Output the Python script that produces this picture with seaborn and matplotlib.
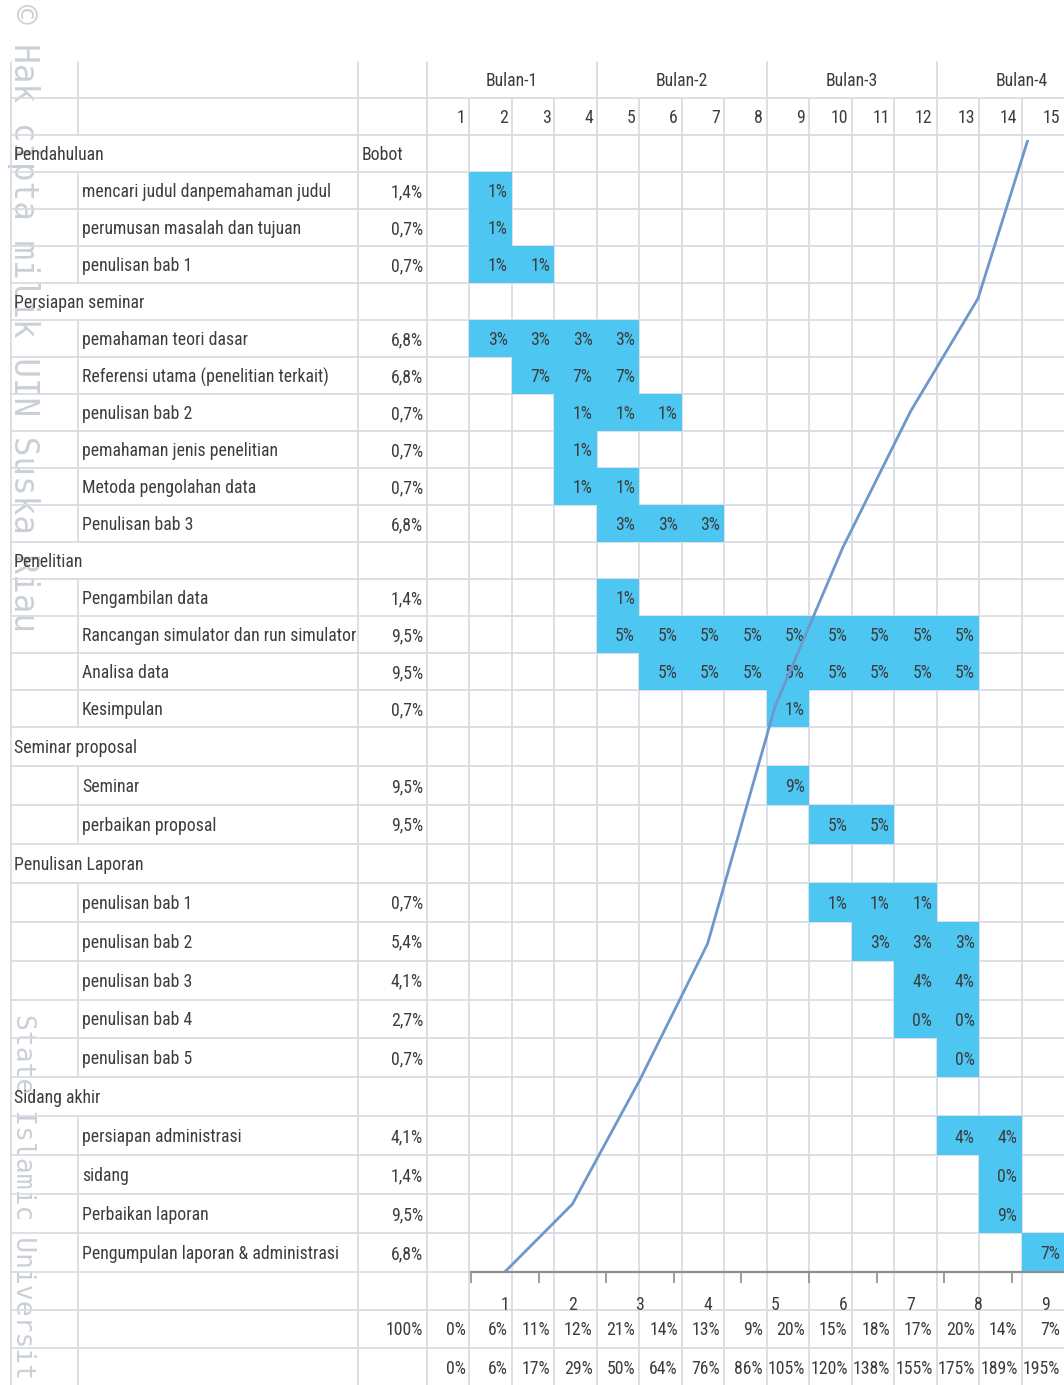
import numpy as np
import pandas as pd
import matplotlib
matplotlib.use("Agg")
import matplotlib.pyplot as plt
from matplotlib import font_manager as fm
from matplotlib.colors import ListedColormap
import seaborn as sns

# ---------------- data ----------------
months = ["Bulan-1", "Bulan-2", "Bulan-3", "Bulan-4"]
weeks = [str(i) for i in range(1, 16)]

row_labels = [
    "Pendahuluan", "mencari judul danpemahaman judul", "perumusan masalah dan tujuan", "penulisan bab 1",
    "Persiapan seminar", "pemahaman teori dasar", "Referensi utama (penelitian terkait)", "penulisan bab 2",
    "pemahaman jenis penelitian", "Metoda pengolahan data", "Penulisan bab 3",
    "Penelitian", "Pengambilan data", "Rancangan simulator dan run simulator", "Analisa data", "Kesimpulan",
    "Seminar proposal", "Seminar", "perbaikan proposal",
    "Penulisan Laporan", "penulisan bab 1", "penulisan bab 2", "penulisan bab 3", "penulisan bab 4",
    "penulisan bab 5",
    "Sidang akhir", "persiapan administrasi", "sidang", "Perbaikan laporan", "Pengumpulan laporan & administrasi",
]
is_group = [1, 0, 0, 0, 1, 0, 0, 0, 0, 0, 0, 1, 0, 0, 0, 0, 1, 0, 0, 1, 0, 0, 0, 0, 0, 1, 0, 0, 0, 0]
bobot_header = "Bobot"
bobot = ["", "1,4%", "0,7%", "0,7%", "", "6,8%", "6,8%", "0,7%", "0,7%", "0,7%", "6,8%",
         "", "1,4%", "9,5%", "9,5%", "0,7%", "", "9,5%", "9,5%",
         "", "0,7%", "5,4%", "4,1%", "2,7%", "0,7%", "", "4,1%", "1,4%", "9,5%", "6,8%"]
start_week = [0, 2, 2, 2, 0, 2, 3, 4, 4, 4, 5, 0, 5, 5, 6, 9, 0, 9, 10, 0, 10, 11, 12, 12, 13, 0, 13, 14, 14, 15]
end_week = [0, 2, 2, 3, 0, 5, 5, 6, 4, 5, 7, 0, 5, 13, 13, 9, 0, 9, 11, 0, 12, 13, 13, 13, 13, 0, 14, 14, 14, 15]
cell_pct = ["", "1%", "1%", "1%", "", "3%", "7%", "1%", "1%", "1%", "3%", "", "1%", "5%", "5%", "1%",
            "", "9%", "5%", "", "1%", "3%", "4%", "0%", "0%", "", "4%", "0%", "9%", "7%"]

total_bobot = "100%"
weekly_pct = ["0%", "6%", "11%", "12%", "21%", "14%", "13%", "9%", "20%", "15%", "18%", "17%", "20%", "14%", "7%"]
cumulative_pct = ["0%", "6%", "17%", "29%", "50%", "64%", "76%", "86%", "105%", "120%", "138%", "155%",
                  "175%", "189%", "195%"]

s_curve_labels = [str(i) for i in range(1, 10)]
s_curve_values = [0, 6, 17, 29, 50, 64, 76, 86, 105]

# ---------------- style ----------------
sns.set_theme(style="white")
regular = {f.name for f in fm.fontManager.ttflist
           if f.style == "normal" and f.weight in (400, "normal", "regular")}
candidates = ["Roboto Condensed", "PT Sans Narrow", "Open Sans Condensed", "Fira Sans Condensed",
              "Archivo Narrow", "IBM Plex Sans Condensed", "Encode Sans Condensed", "Asap Condensed",
              "Liberation Sans Narrow", "Arial Narrow", "Roboto", "DejaVu Sans"]
FONT = next((c for c in candidates if c in regular), "DejaVu Sans")
plt.rcParams["font.family"] = [FONT, "DejaVu Sans"]

BLUE = "#4DC7F2"
GRID = "#D9DCE4"
TXT = "#3D3D3D"
LINE = "#6E97CB"
WM = "#CBD0D6"

W, H = 1064, 1385
fig = plt.figure(figsize=(W / 100, H / 100), dpi=100)
fig.patch.set_facecolor("white")

bg = fig.add_axes([0, 0, 1, 1])
bg.set_xlim(0, W)
bg.set_ylim(H, 0)
bg.axis("off")

# size the text so that the longest task name is as wide as in the sheet
fig.canvas.draw()
_r = fig.canvas.get_renderer()
_t = bg.text(0, 0, "mencari judul danpemahaman judul", fontsize=10)
_w = _t.get_window_extent(_r).width
_t.remove()
FS = float(np.clip(10 * 248.0 / _w, 10, 16))

# column geometry (pixels)
X_LEFT, X_A, X_B, X_C = 11, 78, 358, 427
CW = (W - X_C) / 15.0
week_edges = [X_C + k * CW for k in range(16)]

# row geometry (pixels)
Y_TOP = 62
hdr_edges = [Y_TOP, 98, 135]
top_rows = 16          # Pendahuluan .. Kesimpulan
bot_rows = 14          # Seminar proposal .. Pengumpulan
Y_MID, Y_END = 727, 1272
r_edges = [135 + i * (Y_MID - 135) / top_rows for i in range(top_rows)] + \
          [Y_MID + i * (Y_END - Y_MID) / bot_rows for i in range(bot_rows + 1)]
foot_edges = [Y_END, 1310, 1348, H]

# ---------------- watermark ----------------
bg.text(23, 4, "\u00a9 Hak cipta milik UIN Suska Riau", rotation=270, ha="center", va="top",
        fontsize=23.5, family="DejaVu Sans Mono", color=WM, zorder=0)
bg.text(23, 1014, "State Islamic Universit", rotation=270, ha="center",
        va="top", fontsize=19, family="DejaVu Sans Mono", color=WM, zorder=0)

# ---------------- grid ----------------
lw = 1.3
all_h = [98, 135] + r_edges[1:] + foot_edges[1:-1]
for y in all_h:
    bg.plot([X_LEFT, W], [y, y], color=GRID, lw=lw, zorder=1)

row_spans = [(hdr_edges[0], hdr_edges[1], "month"), (hdr_edges[1], hdr_edges[2], "week")]
for i in range(len(row_labels)):
    row_spans.append((r_edges[i], r_edges[i + 1], "group" if is_group[i] else "task"))
for i in range(3):
    row_spans.append((foot_edges[i], foot_edges[i + 1], "foot"))

for (y0, y1, kind) in row_spans:
    xs = [X_LEFT, X_B, X_C]
    if kind != "group":
        xs.append(X_A)
    if kind == "month":
        xs += [week_edges[4], week_edges[8], week_edges[12]]
    else:
        xs += week_edges[1:-1]
    for x in xs:
        bg.plot([x, x], [y0, y1], color=GRID, lw=lw, zorder=1)

# ---------------- header text ----------------
for k, m in enumerate(months):
    bg.text(X_C + (4 * k + 2) * CW, 81, m, ha="center", va="center", fontsize=FS, color=TXT)
for k, wk in enumerate(weeks):
    bg.text(week_edges[k + 1] - 4, 118, wk, ha="right", va="center", fontsize=FS, color=TXT)

for i, lab in enumerate(row_labels):
    yc = (r_edges[i] + r_edges[i + 1]) / 2 + 1.5
    if is_group[i]:
        bg.text(14, yc, lab, ha="left", va="center", fontsize=FS, color=TXT)
    else:
        bg.text(82, yc, lab, ha="left", va="center", fontsize=FS, color=TXT)
    if bobot[i]:
        bg.text(X_C - 4, yc, bobot[i], ha="right", va="center", fontsize=FS, color=TXT)
bg.text(362, (r_edges[0] + r_edges[1]) / 2 + 1.5, bobot_header, ha="left", va="center", fontsize=FS, color=TXT)

# footer rows
yb = (foot_edges[1] + foot_edges[2]) / 2 + 1
yc2 = (foot_edges[2] + foot_edges[3]) / 2 + 2
bg.text(X_C - 4, yb, total_bobot, ha="right", va="center", fontsize=FS, color=TXT)
for k in range(15):
    bg.text(week_edges[k + 1] - 4, yb, weekly_pct[k], ha="right", va="center", fontsize=FS, color=TXT)
    bg.text(week_edges[k + 1] - 4, yc2, cumulative_pct[k], ha="right", va="center", fontsize=FS, color=TXT)

# ---------------- gantt cells (seaborn heatmap) ----------------
mat = np.full((len(row_labels), 15), np.nan)
ann = np.full((len(row_labels), 15), "", dtype=object)
for i, (s, e, p) in enumerate(zip(start_week, end_week, cell_pct)):
    if s:
        mat[i, s - 1:e] = 1
        ann[i, s - 1:e] = p
df = pd.DataFrame(mat, index=row_labels, columns=weeks)


def draw_block(rows, y0, y1):
    ax = fig.add_axes([X_C / W, 1 - y1 / H, (W - X_C) / W, (y1 - y0) / H])
    sub = df.iloc[rows]
    sns.heatmap(sub, ax=ax, cmap=ListedColormap([BLUE]), mask=sub.isna(), vmin=0, vmax=1,
                cbar=False, xticklabels=False, yticklabels=False, linewidths=0)
    ax.patch.set_alpha(0)
    ax.set_xlabel("")
    ax.set_ylabel("")
    for r, ri in enumerate(rows):
        for c in range(15):
            if ann[ri, c]:
                ax.text(c + 0.9, r + 0.55, ann[ri, c], ha="right", va="center", fontsize=FS, color=TXT)
    return ax


draw_block(list(range(0, top_rows)), r_edges[0], Y_MID)
draw_block(list(range(top_rows, top_rows + bot_rows)), Y_MID, Y_END)

# ---------------- S-curve (line chart) ----------------
X0, CATW = 471, 67.6
Y_PLOT_TOP = 140
lax = fig.add_axes([X0 / W, 1 - Y_END / H, 9 * CATW / W, (Y_END - Y_PLOT_TOP) / H])
lax.patch.set_alpha(0)
curve = pd.DataFrame({"minggu": np.arange(9), "progres": np.array(s_curve_values) / 100.0})
sns.lineplot(data=curve, x="minggu", y="progres", ax=lax, color=LINE, lw=2.0)
lax.set_xlim(-0.5, 8.5)
lax.set_ylim(0, 1)
for sp in ["top", "right", "left"]:
    lax.spines[sp].set_visible(False)
lax.spines["bottom"].set_color("#8E8E8E")
lax.spines["bottom"].set_linewidth(1.6)
lax.set_yticks([])
lax.set_xticks(np.arange(-0.5, 9, 1))
lax.set_xticklabels([])
lax.tick_params(axis="x", which="major", length=8, width=1.2, color="#8E8E8E", direction="out", bottom=True)
lax.set_xticks(np.arange(9), minor=True)
lax.set_xticklabels(s_curve_labels, minor=True, fontsize=FS, color=TXT)
lax.tick_params(axis="x", which="minor", length=0, pad=17)
lax.set_xlabel("")
lax.set_ylabel("")
lax.grid(False)

fig.savefig("out.png", dpi=100, facecolor="white")
